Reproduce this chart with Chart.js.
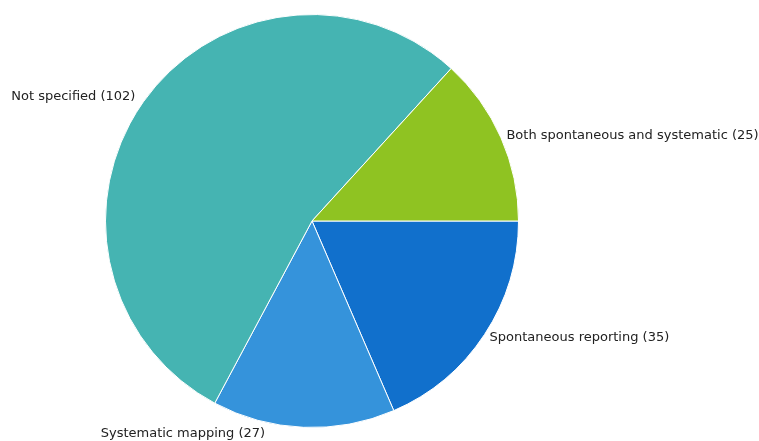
<!DOCTYPE html>
<html>
<head>
<meta charset="utf-8">
<title>Reporting method</title>
<script src="https://cdn.jsdelivr.net/npm/chart.js@4"></script>
<style>
  html, body { margin: 0; padding: 0; background: #ffffff; }
  #chart { display: block; }
</style>
</head>
<body>
<canvas id="chart" width="759" height="441"></canvas>
<script>
// Slices in drawing order, clockwise from 3 o'clock
const categories = [
  'Spontaneous reporting',
  'Systematic mapping',
  'Not specified',
  'Both spontaneous and systematic'
];
const counts = [35, 27, 102, 25];
const sliceColors = ['#1170CC', '#3593DB', '#45B4B2', '#8FC322'];

// Outside labels: "Name (count)" placed just past the rim at each slice's mid-angle
const outsideLabels = {
  id: 'outsideLabels',
  afterDatasetsDraw(chart, args, opts) {
    const ctx = chart.ctx;
    const meta = chart.getDatasetMeta(0);
    ctx.save();
    ctx.font = opts.font;
    ctx.fillStyle = opts.color;
    ctx.textBaseline = 'middle';
    meta.data.forEach((arc, i) => {
      const p = arc.getProps(['x', 'y', 'startAngle', 'endAngle', 'outerRadius'], true);
      const mid = (p.startAngle + p.endAngle) / 2;
      const r = p.outerRadius + opts.gap;
      let x = p.x + Math.cos(mid) * r;
      let y = p.y + Math.sin(mid) * r;
      const n = (opts.nudge && opts.nudge[i]) || [0, 0];
      x += n[0];
      y += n[1];
      ctx.textAlign = Math.cos(mid) >= 0 ? 'left' : 'right';
      const text = chart.data.labels[i] + ' (' + chart.data.datasets[0].data[i] + ')';
      ctx.fillText(text, x, y);
    });
    ctx.restore();
  }
};

new Chart(document.getElementById('chart'), {
  type: 'pie',
  data: {
    labels: categories,
    datasets: [{
      data: counts,
      backgroundColor: sliceColors,
      borderColor: '#ffffff',
      borderWidth: 1
    }]
  },
  options: {
    responsive: false,
    animation: false,
    rotation: 90,
    layout: { padding: { left: 105, right: 240, top: 14, bottom: 13 } },
    plugins: {
      legend: { display: false },
      tooltip: { enabled: false },
      outsideLabels: {
        font: '13px "DejaVu Sans", Verdana, sans-serif',
        color: '#222222',
        gap: 6,
        nudge: [[0, 0], [-38, 0], [-3, -2], [0, 0]]
      }
    }
  },
  plugins: [outsideLabels]
});
</script>
</body>
</html>
